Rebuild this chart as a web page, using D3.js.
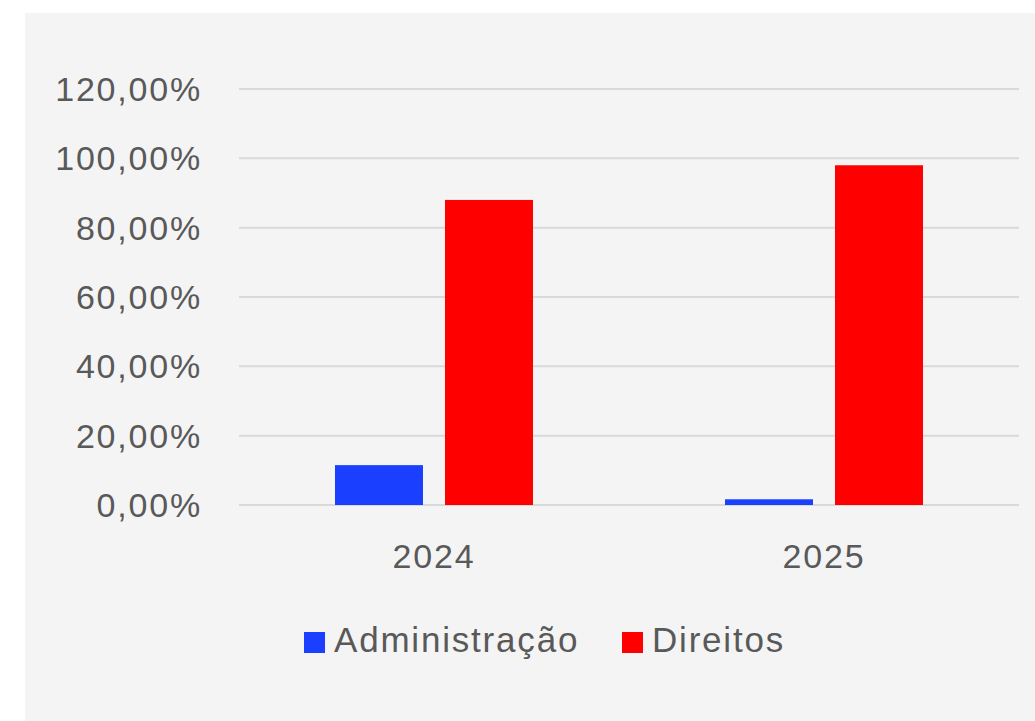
<!DOCTYPE html>
<html>
<head>
<meta charset="utf-8">
<script src="https://cdn.jsdelivr.net/npm/d3@7"></script>
<style>
  body { margin: 0; background: #ffffff; }
  text { font-family: "Liberation Sans", Arial, sans-serif; fill: #595959; }
</style>
</head>
<body>
<svg id="chart" width="1035" height="721"></svg>
<script>
var years = ["2024", "2025"];
var seriesNames = ["Administração", "Direitos"];
var administracao = [11.5, 1.65];
var direitos = [88.0, 98.0];
var yTicks = [0, 20, 40, 60, 80, 100, 120];
var colors = ["#1a3fff", "#ff0000"];

var svg = d3.select("#chart");

// panel background
svg.append("rect")
   .attr("x", 25).attr("y", 13)
   .attr("width", 1010).attr("height", 708)
   .attr("fill", "#f4f4f4");

var plotLeft = 239, plotRight = 1019, plotTop = 89, plotBottom = 505;

var x = d3.scaleBand().domain(years).range([plotLeft, plotRight]);
var xs = d3.scaleBand().domain(seriesNames).range([0, 198]).paddingInner(0.2);
var y = d3.scaleLinear().domain([0, 120]).range([plotBottom, plotTop]);

var fmt = function(d) { return d3.format(".2f")(d).replace(".", ",") + "%"; };

// gridlines
svg.append("g")
   .selectAll("line")
   .data(yTicks)
   .enter().append("line")
   .attr("x1", plotLeft).attr("x2", plotRight)
   .attr("y1", function(d) { return y(d); })
   .attr("y2", function(d) { return y(d); })
   .attr("stroke", "#d9d9d9")
   .attr("stroke-width", 2);

// y labels
svg.append("g")
   .selectAll("text")
   .data(yTicks)
   .enter().append("text")
   .attr("x", 202)
   .attr("y", function(d) { return y(d); })
   .attr("dy", "0.35em")
   .attr("text-anchor", "end")
   .attr("font-size", "34px")
   .attr("letter-spacing", "1.8px")
   .text(fmt);

var rows = years.map(function(yr, i) {
    return { year: yr, values: [administracao[i], direitos[i]] };
});

var groups = svg.selectAll(".grp")
   .data(rows)
   .enter().append("g")
   .attr("class", "grp")
   .attr("transform", function(d) {
       return "translate(" + (x(d.year) + x.bandwidth() / 2 - 99) + ",0)";
   });

groups.selectAll("rect")
   .data(function(d) { return d.values; })
   .enter().append("rect")
   .attr("x", function(d, i) { return xs(seriesNames[i]); })
   .attr("y", function(d) { return y(d); })
   .attr("width", xs.bandwidth())
   .attr("height", function(d) { return plotBottom - y(d); })
   .attr("fill", function(d, i) { return colors[i]; });

// x labels
svg.append("g")
   .selectAll("text")
   .data(years)
   .enter().append("text")
   .attr("x", function(d) { return x(d) + x.bandwidth() / 2; })
   .attr("y", 568)
   .attr("text-anchor", "middle")
   .attr("font-size", "34px")
   .attr("letter-spacing", "1.8px")
   .text(function(d) { return d; });

// legend
var legendX = [304, 622];
var legend = svg.append("g")
   .selectAll("g")
   .data(seriesNames)
   .enter().append("g")
   .attr("transform", function(d, i) { return "translate(" + legendX[i] + ",0)"; });

legend.append("rect")
   .attr("x", 0).attr("y", 632)
   .attr("width", 21).attr("height", 21)
   .attr("fill", function(d, i) { return colors[i]; });

legend.append("text")
   .attr("x", 30).attr("y", 652)
   .attr("font-size", "35px")
   .attr("letter-spacing", "1.8px")
   .text(function(d) { return d; });
</script>
</body>
</html>
